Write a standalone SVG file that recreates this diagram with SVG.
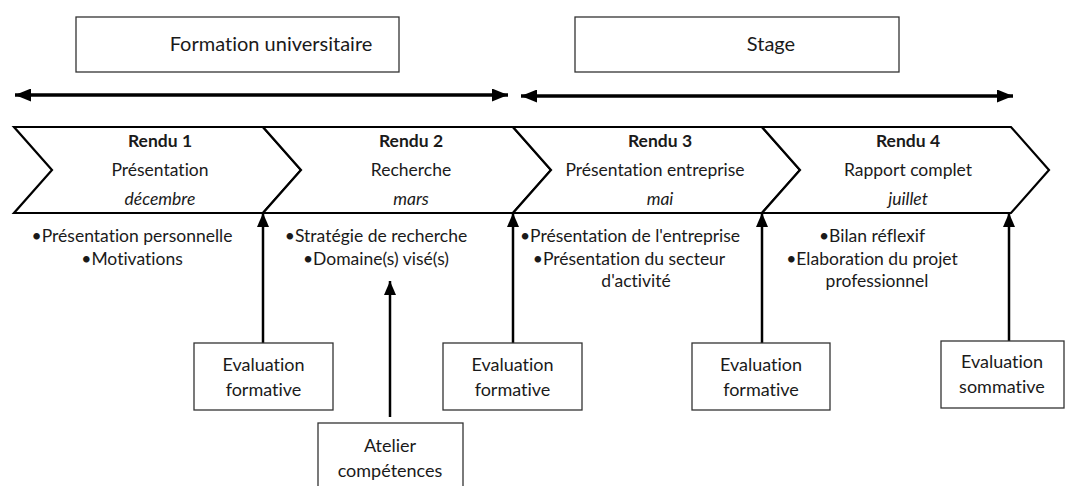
<svg xmlns="http://www.w3.org/2000/svg" width="1067" height="486" viewBox="0 0 1067 486">
<style>
.t{font-family:Lato,"Open Sans","Liberation Sans",sans-serif;font-size:17.5px;fill:#1a1a1a;text-anchor:middle;font-variant-ligatures:none;font-feature-settings:"liga" 0}
.h{font-size:20px}
.e{font-size:18px}
.b{font-weight:bold}
.i{font-style:italic}
.box{fill:#fff;stroke:#333;stroke-width:1.3}
.chev{fill:#fff;stroke:#000;stroke-width:2.2;stroke-linejoin:miter}
.ln{stroke:#000;stroke-width:2.5;fill:none}
.hl{stroke:#000;stroke-width:3.5;fill:none}
</style>
<defs>
<marker id="ah" markerUnits="userSpaceOnUse" markerWidth="14" markerHeight="12" refX="14" refY="6" orient="auto-start-reverse" viewBox="0 0 14 12">
<path d="M0,0 L14,6 L0,12 Z" fill="#000"/>
</marker>
<marker id="ahb" markerUnits="userSpaceOnUse" markerWidth="16" markerHeight="13" refX="16" refY="6.5" orient="auto-start-reverse" viewBox="0 0 16 13">
<path d="M0,0 L16,6.5 L0,13 Z" fill="#000"/>
</marker>
</defs>
<rect width="1067" height="486" fill="#fff"/>

<g id="formation">
<rect class="box" x="76" y="17" width="323" height="55"/>
<text class="t h" x="271" y="51">Formation universitaire</text>
</g>
<g id="stage">
<rect class="box" x="575" y="17" width="324" height="55"/>
<text class="t h" x="771" y="51">Stage</text>
</g>

<g id="connectors">
<line class="hl" x1="15" y1="95" x2="508" y2="95" marker-start="url(#ahb)" marker-end="url(#ahb)"/>
<line class="hl" x1="521" y1="96" x2="1013" y2="96" marker-start="url(#ahb)" marker-end="url(#ahb)"/>
<line class="ln" x1="263" y1="343" x2="263" y2="213" marker-end="url(#ah)"/>
<line class="ln" x1="513" y1="343" x2="513" y2="213" marker-end="url(#ah)"/>
<line class="ln" x1="762" y1="343" x2="762" y2="213" marker-end="url(#ah)"/>
<line class="ln" x1="1009" y1="341" x2="1009" y2="213" marker-end="url(#ah)"/>
<line class="ln" x1="390" y1="417" x2="390" y2="281" marker-end="url(#ah)"/>
</g>

<g id="rendu1">
<path class="chev" d="M14,127 L263,127 L301,170 L263,213 L14,213 L52,170 Z"/>
<text class="t b" x="160" y="147">Rendu 1</text>
<text class="t" x="160" y="176">Présentation</text>
<text class="t i" x="160" y="205">décembre</text>
<text class="t" x="132" y="242">•Présentation personnelle</text>
<text class="t" x="132" y="265">•Motivations</text>
</g>
<g id="rendu2">
<path class="chev" d="M263,127 L513,127 L551,170 L513,213 L263,213 L301,170 Z"/>
<text class="t b" x="411" y="147">Rendu 2</text>
<text class="t" x="411" y="176">Recherche</text>
<text class="t i" x="411" y="205">mars</text>
<text class="t" x="376" y="242">•Stratégie de recherche</text>
<text class="t" x="376" y="265">•Domaine(s) visé(s)</text>
</g>
<g id="rendu3">
<path class="chev" d="M513,127 L762,127 L800,170 L762,213 L513,213 L551,170 Z"/>
<text class="t b" x="660" y="147">Rendu 3</text>
<text class="t" x="655" y="176">Présentation entreprise</text>
<text class="t i" x="660" y="205">mai</text>
<text class="t" x="630" y="242">•Présentation de l'entreprise</text>
<text class="t" x="629" y="265">•Présentation du secteur</text>
<text class="t" x="636" y="287">d'activité</text>
</g>
<g id="rendu4">
<path class="chev" d="M762,127 L1011,127 L1049,170 L1011,213 L762,213 L800,170 Z"/>
<text class="t b" x="908" y="147">Rendu 4</text>
<text class="t" x="908" y="176">Rapport complet</text>
<text class="t i" x="908" y="205">juillet</text>
<text class="t" x="872" y="242">•Bilan réflexif</text>
<text class="t" x="872" y="265">•Elaboration du projet</text>
<text class="t" x="877" y="287">professionnel</text>
</g>

<g id="eval1">
<rect class="box" x="194" y="343" width="139" height="67"/>
<text class="t e" x="263.5" y="371">Evaluation</text>
<text class="t e" x="263.5" y="396">formative</text>
</g>
<g id="eval2">
<rect class="box" x="443" y="343" width="139" height="67"/>
<text class="t e" x="512.5" y="371">Evaluation</text>
<text class="t e" x="512.5" y="396">formative</text>
</g>
<g id="eval3">
<rect class="box" x="692" y="343" width="138" height="67"/>
<text class="t e" x="761" y="371">Evaluation</text>
<text class="t e" x="761" y="396">formative</text>
</g>
<g id="eval4">
<rect class="box" x="941" y="341" width="123" height="67"/>
<text class="t e" x="1002" y="368">Evaluation</text>
<text class="t e" x="1002" y="393">sommative</text>
</g>
<g id="atelier">
<rect class="box" x="318" y="423" width="145" height="80"/>
<text class="t e" x="390" y="452">Atelier</text>
<text class="t e" x="390" y="477">compétences</text>
</g>
</svg>
